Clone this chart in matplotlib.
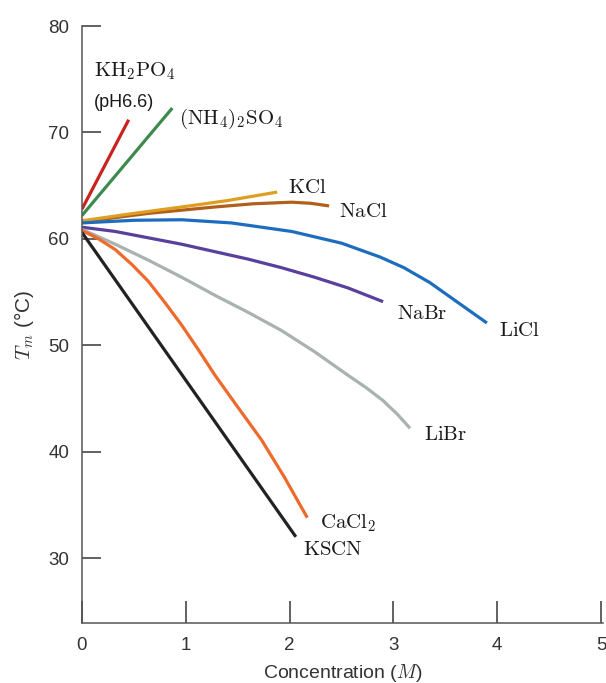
#!/usr/bin/env python3

import matplotlib.pyplot as plt

plt.rcParams['mathtext.fontset'] = 'cm'
plt.rcParams['font.family'] = ['Liberation Sans', 'DejaVu Sans']

# melting temperature of DNA vs salt concentration
kh2po4_x = [0.0, 0.45]
kh2po4_y = [62.8, 71.2]
nh4so4_x = [0.0, 0.87]
nh4so4_y = [62.2, 72.3]
kcl_x    = [0.0, 0.5, 0.96, 1.4, 1.88]
kcl_y    = [61.7, 62.4, 63.0, 63.6, 64.4]
nacl_x   = [0.0, 0.32, 0.64, 0.96, 1.28, 1.65, 2.02, 2.2, 2.38]
nacl_y   = [61.6, 62.0, 62.4, 62.7, 63.0, 63.3, 63.45, 63.35, 63.1]
licl_x   = [0.0, 0.5, 0.96, 1.44, 2.02, 2.5, 2.87, 3.1, 3.35, 3.61, 3.9]
licl_y   = [61.5, 61.75, 61.8, 61.5, 60.7, 59.6, 58.3, 57.3, 55.9, 54.1, 52.1]
nabr_x   = [0.0, 0.32, 0.64, 0.96, 1.28, 1.6, 1.92, 2.24, 2.56, 2.9]
nabr_y   = [61.1, 60.7, 60.1, 59.5, 58.8, 58.1, 57.3, 56.4, 55.4, 54.1]
libr_x   = [0.0, 0.32, 0.64, 0.96, 1.28, 1.6, 1.92, 2.24, 2.56, 2.74, 2.9, 3.04, 3.16]
libr_y   = [60.9, 59.5, 58.0, 56.4, 54.7, 53.1, 51.4, 49.4, 47.2, 46.0, 44.8, 43.5, 42.2]
cacl2_x  = [0.0, 0.16, 0.32, 0.48, 0.64, 0.8, 0.96, 1.12, 1.28, 1.5, 1.73, 1.95, 2.17]
cacl2_y  = [60.8, 60.0, 59.0, 57.6, 56.0, 54.0, 51.9, 49.6, 47.2, 44.2, 41.1, 37.6, 33.8]
kscn_x   = [0.0, 2.06]
kscn_y   = [60.6, 32.0]

series = [
  (kh2po4_x, kh2po4_y, '#c8241e'),
  (nh4so4_x, nh4so4_y, '#3d8a4e'),
  (nacl_x,   nacl_y,   '#b0601a'),
  (kcl_x,    kcl_y,    '#dd9e22'),
  (licl_x,   licl_y,   '#1d6dbf'),
  (nabr_x,   nabr_y,   '#5a3f9c'),
  (libr_x,   libr_y,   '#a9b1b1'),
  (cacl2_x,  cacl2_y,  '#ee6a2c'),
  (kscn_x,   kscn_y,   '#222222'),
]

# curve labels: text, x, y (data coords of the label's left/centre)
labels = [
  (r'$\mathrm{KH_2PO_4}$',      0.12, 75.8),
  (r'$\mathrm{(NH_4)_2SO_4}$',  0.93, 71.3),
  (r'$\mathrm{KCl}$',           1.98, 64.8),
  (r'$\mathrm{NaCl}$',          2.48, 62.6),
  (r'$\mathrm{NaBr}$',          3.03, 53.0),
  (r'$\mathrm{LiCl}$',          4.02, 51.4),
  (r'$\mathrm{LiBr}$',          3.29, 41.6),
  (r'$\mathrm{CaCl_2}$',        2.29, 33.3),
  (r'$\mathrm{KSCN}$',          2.13, 30.8),
]

fig = plt.figure(figsize=(6.06, 6.83), dpi=100)
ax = fig.add_axes([0.1353, 0.0878, 0.86, 0.874])

for xs, ys, c in series:
  ax.plot(xs, ys, color=c, lw=2.3, solid_capstyle='butt', solid_joinstyle='round')

for txt, lx, ly in labels:
  ax.text(lx, ly, txt, fontsize=15, va='center', ha='left', color='#1a1a1a')
ax.text(0.11, 72.8, '(pH6.6)', fontsize=13, va='center', ha='left', color='#1a1a1a')

ax.set_xlim(0, 5.02)
ax.set_ylim(23.9, 80)
ax.set_xticks([0, 1, 2, 3, 4, 5])
ax.set_yticks([30, 40, 50, 60, 70, 80])

for s in ['top', 'right']:
  ax.spines[s].set_visible(False)
for s in ['left', 'bottom']:
  ax.spines[s].set_color('#555555')
  ax.spines[s].set_linewidth(1.1)

ax.tick_params(axis='y', direction='in', length=14, width=1.3, color='#555555',
               labelsize=13.5, labelcolor='#333333', pad=9)
ax.tick_params(axis='x', direction='in', length=16, width=1.3, color='#555555',
               labelsize=13.5, labelcolor='#333333', pad=10)

ax.set_xlabel('Concentration ($M$)', fontsize=14, color='#333333', labelpad=6)
ax.set_ylabel(r'$T_m$ (°C)', fontsize=15, color='#333333', labelpad=9)

fig.savefig('out.png', dpi=100)
